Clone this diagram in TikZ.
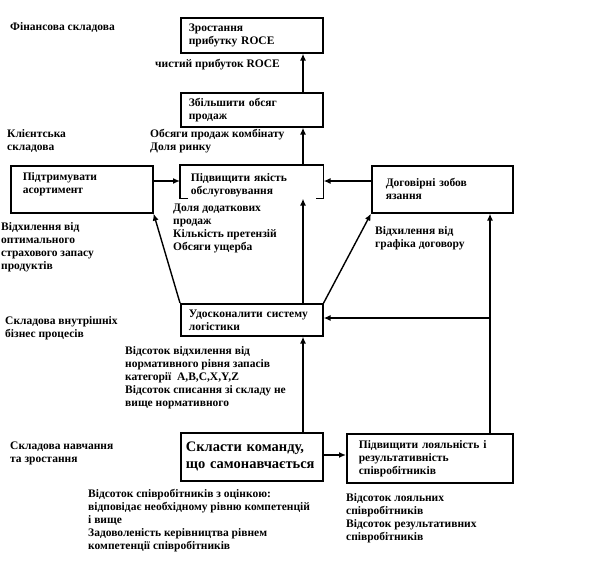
\documentclass[tikz,border=0pt]{standalone}
\usepackage{fontspec}
\setmainfont{Liberation Serif}
\usetikzlibrary{arrows.meta}
\begin{document}
\begin{tikzpicture}[x=1pt,y=-1pt,
  box/.style={draw, line width=1.6pt, anchor=north west, align=left, inner ysep=2pt, font=\bfseries\fontsize{11.5}{13}\selectfont},
  bigbox/.style={box, font=\bfseries\fontsize{14.5}{17}\selectfont},
  lbl/.style={anchor=north west, align=left, inner sep=0pt, font=\bfseries\fontsize{11.5}{13}\selectfont},
  arr/.style={-{Latex[length=7pt,width=6pt]}, line width=1.4pt}]
\useasboundingbox (0,0) rectangle (596,571);
\fill[white] (0,0) rectangle (596,571);
% coordinates for connector lines
\coordinate (cx) at (303,0);
\coordinate (dx) at (490,0);
\coordinate (r1) at (0,181);
\coordinate (r2) at (0,318);
\coordinate (r3) at (0,455);
% boxes
\node[box, inner xsep=8pt, text width=126pt, minimum height=35pt] (b1) at (180,17) {Зростання\\прибутку ROCE};
\node[box, inner xsep=8pt, text width=126pt, minimum height=34pt] (b2) at (180,92) {Збільшити обсяг\\продаж};
\node[box, inner xsep=12pt, text width=118pt, minimum height=47pt] (asort) at (10,165) {Підтримувати\\асортимент\rule[-13pt]{0pt}{13pt}};
\node[box, draw=none, inner xsep=10pt, inner ysep=0pt, text width=122pt, minimum height=32pt] (b3) at (180,165) {\rule{0pt}{15pt}Підвищити якість\\обслуговування};
\draw[line width=1.6pt] ([xshift=8pt]b3.south west) -- (b3.south west) -- (b3.north west) -- (b3.north east) -- (b3.south east) -- ([xshift=-8pt]b3.south east);
\node[box, inner xsep=14pt, text width=113pt, minimum height=47pt] (dog) at (371,165) {Договірні зобов\\язання};
\node[box, inner xsep=8pt, text width=126pt, minimum height=32pt] (log) at (180,303) {Удосконалити систему\\логістики};
\node[bigbox, inner xsep=5pt, text width=132pt, minimum height=48pt] (team) at (180,432) {Скласти команду,\\що самонавчається};
\node[box, inner xsep=12pt, text width=142pt, minimum height=49pt] (loyal) at (346,433) {Підвищити лояльність і\\результативність\\співробітників};
% labels
\node[lbl] (l1) at (10,22) {Фінансова складова};
\node[lbl] (l2) at (155,59) {чистий прибуток ROCE};
\node[lbl] (l3) at (7,129) {Клієнтська\\складова};
\node[lbl] (l4) at (150,129) {Обсяги продаж комбінату\\Доля ринку};
\node[lbl] (l5) at (1,222) {Відхилення від\\оптимального\\страхового запасу\\продуктів};
\node[lbl] (l6) at (173,204) {Доля додаткових\\продаж\\Кількість претензій\\Обсяги ущерба};
\node[lbl] (l7) at (375,226) {Відхилення від\\графіка договору};
\node[lbl] (l8) at (5,316) {Складова внутрішніх\\бізнес процесів};
\node[lbl] (l9) at (125,346) {Відсоток відхилення від\\нормативного рівня запасів\\категорії\ \ A,B,C,X,Y,Z\\Відсоток списання зі складу не\\вище нормативного};
\node[lbl] (l10) at (10,442) {Складова навчання\\та зростання};
\node[lbl] (l11) at (88,489) {Відсоток співробітників з оцінкою:\\відповідає необхідному рівню компетенцій\\і вище\\Задоволеність керівництва рівнем\\компетенції співробітників};
\node[lbl] (l12) at (346,493) {Відсоток лояльних\\співробітників\\Відсоток результативних\\співробітників};
% connectors
\draw[arr] (b2.north -| cx) -- (b1.south -| cx);
\draw[arr] (b3.north -| cx) -- (b2.south -| cx);
\draw[arr] (asort.east |- r1) -- (b3.west |- r1);
\draw[arr] (dog.west |- r1) -- (b3.east |- r1);
\draw[arr] (log.north west) -- (asort.south east);
\draw[arr] (log.north east) -- (dog.south west);
\draw[arr] (log.north -| cx) -- (b3.south -| cx);
\draw[arr] (team.north -| cx) -- (log.south -| cx);
\draw[arr] (team.east |- r3) -- (loyal.west |- r3);
\draw[arr] (loyal.north -| dx) -- (dog.south -| dx);
\draw[arr] (dx |- r2) -- (log.east |- r2);
\end{tikzpicture}
\end{document}
